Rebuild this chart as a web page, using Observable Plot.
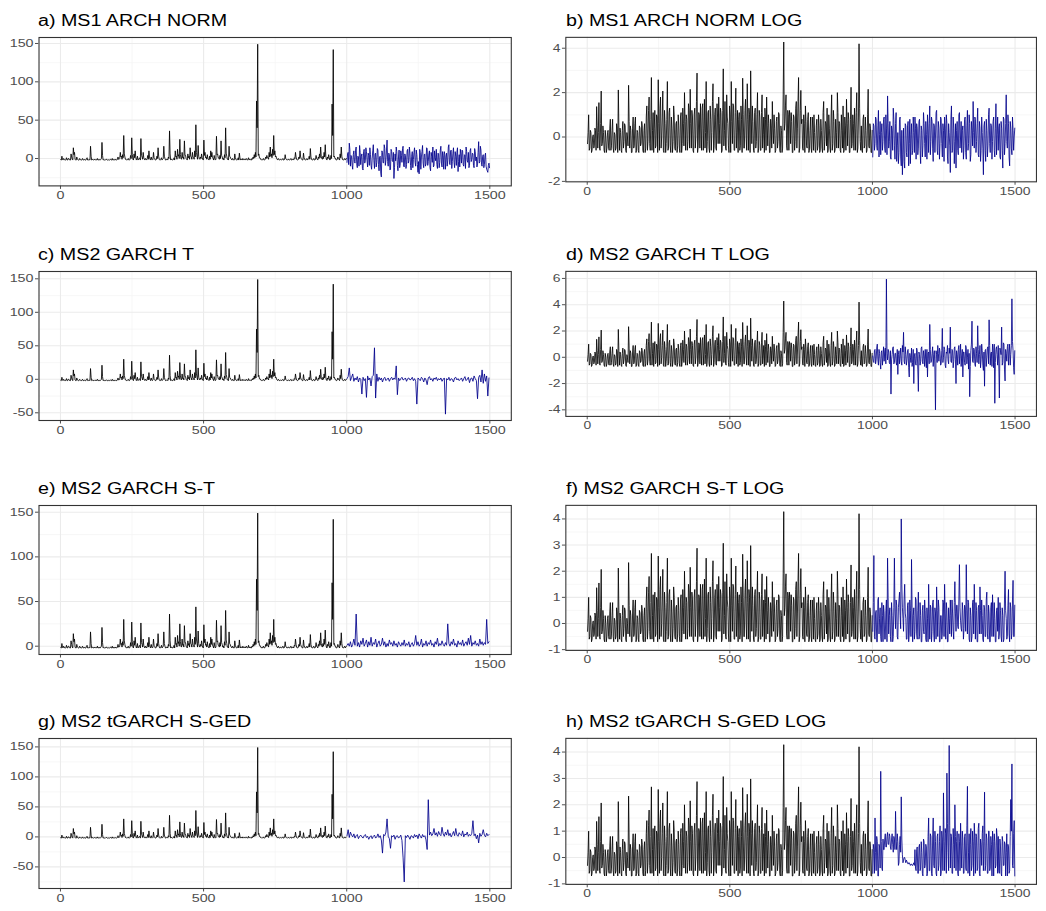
<!DOCTYPE html>
<html><head><meta charset="utf-8">
<script src="https://cdn.jsdelivr.net/npm/d3@7"></script>
<script src="https://cdn.jsdelivr.net/npm/@observablehq/plot@0.6"></script>
<style>
body{margin:0;background:#fff;}
#fig{position:relative;width:1046px;height:911px;overflow:hidden;background:#fff;font-family:"Liberation Sans",Arial,sans-serif;}
.title{position:absolute;font-size:16px;color:#000;white-space:nowrap;transform:scaleX(1.23);transform-origin:left top;line-height:1;}
.panel{position:absolute;}
</style></head><body><div id="fig"></div>
<script>
// time index: training part starts at 1, forecast part at 1001.
// "...Mid" arrays hold the readings taken between the main readings (offset by 2).
const trainStart = 1, testStart = 1001, step = 4, midOffset = 2;

// training series (black), raw scale, shared by panels a, c, e, g
const blackRaw = [
-1.5,3,-2,-1,-2,1,-2,0,-1.5,6,
-1,14,8,-2,2,-1.5,-2,-1,-2,0,
-2,-1.8,-2,1,-2,-1.5,16,-2,-1,-2,
-2,-1.5,0,-2,-2,-1,21,-2,-1.8,-2,
-1,-2,-2.1,-1.5,-2,0,-2,-2,-1,-2,
2,-1,8,3,5,30,2,-1,-2,0,
-2,4,27,-1,6,10,-2,3,-1,1,
26,2,8,-1,0,-2,4,10,-1,2,
-2,8,0,-2,3,14,-1,-2,1,-1,
16,0,-2,-1,2,36,-2,-1,-2,1,
10,3,12,5,25,0,8,2,23,4,
-1,6,3,14,2,8,1,10,44,3,
17,0,2,6,-1,24,8,2,5,-1,
3,10,8,0,4,-2,29,6,1,4,
23,2,0,5,40,3,-1,16,2,-1,
0,-2,6,-1,-2,1,7,-2,-1,0,
-2,-1,0,-2,1,-1,-2,0,2,5,
8,75,149,6,1,-1,-2,0,-2,2,
4,1,8,15,6,12,30,10,3,-1,
0,-2,-1,-2,0,-2,5,-1,-2,-1,
-2,0,-2,-1,1,8,-1,-2,2,10,
0,-2,7,-1,-2,0,-1,3,13,-1,
-2,0,-2,4,-1,2,6,15,0,3,
8,18,-1,2,5,-2,4,71,142,3,
0,-2,2,-1,6,15,-1,-2,0,-1
];
const blackRawMid = [
-2,-1,0,-2,-1.5,-2,0,-1.8,-2,2,
-2,5,-1,-2,-1,-2,0,-2,-1.5,-2,
-1,-2,0,-2,-1.5,-2,3,-1.5,-2,-1,
-1.5,-2,-2,-1,-2,0,4,-1.5,-2,-1,
-2,-1.5,-2,-1,-2,-2,-1,-2,-2,-1,
-1,0,2,-1,1,6,-1,-2,-1,-2,
-1,0,5,-2,1,2,-1,-2,0,-2,
4,-1,1,-2,-1,0,-1,2,-2,-1,
-1,1,-2,-1,0,3,-2,-1,-2,0,
3,-2,-1,-2,0,6,-1,-2,-1,-2,
2,-1,3,0,5,-1,1,-1,4,0,
-2,1,-1,3,-1,2,-1,2,8,-1,
3,-1,0,1,-2,4,1,-1,0,-2,
-1,2,1,-2,0,-1,5,1,-1,0,
4,-1,-2,1,7,-1,-2,3,0,-2,
-1,-2,1,-2,-1,-2,1,-1,-2,-1,
-1,-2,-1,-1.5,-2,-1,-2,-1,0,1,
2,40,4,1,-1,-2,-1,-2,-1,0,
1,-1,2,3,1,4,5,2,0,-2,
-1,-2,-1.5,-1,-2,-1,0,-2,-1,-2,
-1,-2,-1,-2,0,2,-2,-1,0,2,
-1,-2,1,-2,-1,-2,0,-1,2,-2,
-1,-2,-1,0,-2,0,1,3,-1,0,
2,3,-2,0,1,-1,0,30,2,0,
-2,-1,0,-2,1,3,-2,-1,-2,0
];

// training series (black), log scale, shared by panels b, d, f, h
const blackLog = [
-0.3,1.0,-0.5,0.2,-0.6,0.1,-0.4,0.3,1.37,-0.5,
1.55,-0.6,2.07,-0.3,0.2,-0.7,0.0,-0.5,0.3,-0.6,
0.8,-0.4,0.8,-0.7,0.1,-0.5,0.4,2.12,-0.6,0.2,
-0.7,0.7,-0.2,0.5,-0.7,0.0,2.33,-0.5,0.3,-0.7,
0.9,-0.4,0.9,-0.6,0.2,-0.7,0.4,-0.3,0.5,-0.7,
0.6,-0.5,1.4,-0.2,1.8,-0.6,2.68,0.3,-0.7,1.2,
-0.4,0.9,2.58,-0.6,1.8,0.0,2.07,-0.7,0.6,-0.3,
2.5,-0.5,1.3,-0.7,0.4,-0.2,1.0,-0.6,0.7,-0.4,
0.5,-0.7,1.1,-0.3,0.6,2.0,-0.6,0.8,-0.2,1.2,
2.15,-0.5,0.9,-0.7,1.3,0.0,2.88,-0.4,1.0,1.5,
-0.6,1.5,0.4,-0.5,2.5,-0.2,1.2,-0.7,0.8,0.2,
2.4,-0.4,1.3,-0.6,0.9,1.8,-0.3,1.1,-0.6,3.07,
0.3,-0.5,1.9,0.6,-0.7,1.0,2.5,-0.3,1.4,-0.6,
2.2,0.2,-0.7,1.1,-0.4,0.8,2.65,-0.5,1.2,0.0,
2.4,-0.6,1.0,2.98,-0.3,0.7,-0.7,1.3,-0.2,2.0,
-0.5,0.9,-0.6,1.9,0.1,-0.7,0.8,1.8,-0.4,0.6,
-0.7,0.5,1.6,-0.3,0.4,-0.6,0.9,-0.2,1.0,-0.7,
0.3,-0.5,4.28,0.6,1.9,-0.6,1.0,1.2,-0.3,0.7,
-0.7,0.9,-0.2,1.6,0.4,2.68,-0.5,2.1,0.8,-0.6,
0.6,1.4,-0.4,0.8,-0.7,0.3,-0.5,0.9,-0.6,0.2,
-0.7,0.8,-0.4,0.5,-0.6,0.3,-0.7,1.6,-0.2,0.6,
1.3,-0.6,0.4,-0.7,1.9,-0.3,0.7,-0.6,0.2,2.0,
-0.5,0.6,-0.7,0.3,1.4,-0.6,0.5,1.7,-0.4,0.8,
-0.7,2.24,-0.3,0.6,1.3,-0.6,2.0,-0.5,4.2,-0.2,
0.5,-0.7,1.0,-0.4,0.3,-0.6,2.15,-0.5,0.4,-0.7
];
const blackLogMid = [
0.2,-0.6,0.3,-0.7,0.0,-0.5,0.4,-0.6,0.5,0.2,
-0.5,0.6,-0.4,0.5,-0.6,0.3,-0.7,0.2,-0.5,0.4,
-0.6,0.3,-0.5,0.2,-0.6,0.6,-0.7,0.5,0.4,-0.6,
0.3,-0.5,0.6,-0.6,0.2,-0.4,0.7,0.5,-0.7,0.4,
-0.5,0.6,-0.7,0.3,-0.6,0.5,-0.4,0.7,-0.6,0.3,
-0.7,0.9,-0.6,1.2,-0.3,0.8,-0.6,1.1,0.4,-0.5,
1.0,-0.7,0.6,1.3,-0.5,0.9,-0.6,1.2,-0.7,0.8,
-0.6,1.1,-0.4,0.9,-0.7,1.4,-0.5,0.6,-0.7,1.0,
-0.5,0.9,-0.7,1.3,-0.4,0.7,1.0,-0.6,1.5,-0.5,
0.6,1.2,-0.6,1.0,-0.5,1.6,-0.7,1.1,-0.5,0.4,
1.3,-0.6,1.7,0.2,-0.7,1.1,-0.5,1.4,-0.6,1.6,
-0.7,1.0,-0.5,1.5,-0.3,0.6,1.3,-0.7,1.2,-0.4,
1.6,-0.6,0.9,-0.4,1.4,-0.7,0.7,1.5,-0.6,1.1,
-0.5,1.2,0.8,-0.6,1.4,-0.7,1.0,-0.5,1.7,-0.6,
0.8,1.3,-0.7,0.9,1.4,-0.6,1.1,-0.5,1.0,-0.7,
1.2,-0.6,1.1,-0.5,0.9,1.3,-0.6,0.5,1.0,-0.7,
0.8,-0.5,0.4,1.0,-0.7,0.7,-0.5,1.1,-0.6,0.5,
-0.7,1.9,0.3,1.4,-0.4,1.2,-0.6,0.9,1.1,-0.7,
1.0,-0.6,1.3,-0.5,1.6,-0.7,1.2,0.6,-0.5,1.0,
-0.7,0.7,-0.5,1.1,-0.6,0.9,-0.7,0.4,1.0,-0.6,
0.5,-0.6,1.0,-0.7,0.8,-0.5,1.1,-0.6,0.7,-0.4,
-0.7,1.0,-0.5,0.9,-0.6,1.2,-0.7,0.8,-0.5,1.1,
0.7,-0.6,1.0,-0.5,-0.7,0.9,-0.6,0.6,1.1,-0.7,
0.8,-0.5,1.0,-0.6,0.4,1.1,-0.7,0.9,1.3,-0.6,
-0.6,0.8,-0.5,0.9,-0.7,1.0,-0.4,0.6,-0.7,0.3
];

// forecast series (blue), one per panel
const blueA = [
-5,8,20,-10,3,-14,10,-6,15,-12,
2,17,-8,6,-15,12,-3,9,-11,4,
14,-9,0,18,-13,7,-5,11,-16,3,
-24,8,-6,13,-2,24,-10,5,-14,9,
-4,-26,6,15,-9,2,-12,10,-5,16,
-11,4,-8,12,-3,7,-15,9,-1,14,
-10,5,-18,-20,8,2,17,-12,6,-7,
13,-4,10,-16,3,15,-9,1,12,-13,
6,-5,16,-11,4,9,-14,7,-2,18,
-8,11,-4,14,-12,3,8,-17,5,12,
-6,10,-10,4,15,-3,8,-9,13,-1,
6,-12,9,2,-7,22,-4,11,-10,5,
-8,7,-14,-18,-6
];
const blueAMid = [
6,-8,12,4,-9,5,-4,11,-7,3,
-10,8,3,-13,9,-6,14,-2,7,-9,
5,-14,10,-3,6,-11,13,-8,2,-19,
10,-5,18,-9,11,-4,7,-15,12,-3,
8,-12,-3,9,-16,11,-7,4,13,-10,
6,-13,10,-6,15,-9,3,-12,8,-5,
11,-8,-4,12,-14,9,-6,5,-10,14,
-9,6,-12,8,-5,-11,10,-3,-8,7,
-12,11,-6,9,-14,5,2,-10,15,-7,
10,-13,7,-5,9,-9,14,-4,-11,6,
11,-8,5,-13,9,-5,-12,10,-4,7,
-9,13,-3,-11,8,-6,16,-8,3,-12,
4,-10,-16,-9,-12
];
const blueB = [
-0.9,0.5,-0.3,0.8,-0.6,1.2,0.1,-0.8,0.6,-0.2,
0.9,-0.7,0.4,1.85,-0.5,0.7,-1.0,0.3,1.3,-0.4,
0.6,-1.1,0.2,-0.7,0.9,-1.3,-1.7,0.4,-1.4,0.5,
-0.9,0.7,-0.3,-1.2,0.6,-0.6,0.2,0.9,-1.0,0.4,
-0.5,0.8,-1.2,0.3,-0.4,0.6,-0.9,0.1,1.0,-0.7,
1.4,-0.2,0.7,-1.1,0.5,0.0,1.2,-0.8,0.4,-0.3,
0.8,-0.9,0.3,0.9,-0.5,0.6,-1.2,0.2,-1.6,1.4,
-0.6,0.4,-0.2,-1.4,0.7,-0.8,1.1,0.0,-0.7,0.5,
-0.4,0.9,-1.0,1.2,-0.3,0.6,-0.8,0.3,1.6,-0.5,
0.8,-0.2,1.3,-0.9,0.4,-0.6,0.2,-1.7,0.7,-1.1,
0.3,-0.4,1.3,-0.7,0.5,-0.2,0.9,-0.9,1.5,0.1,
-0.6,0.6,-1.0,0.4,-1.4,0.8,-0.3,1.9,-0.5,0.6,
-1.3,0.4,-0.8,0.3,0.0
];
const blueBMid = [
0.6,-0.6,0.9,-0.4,0.5,-0.9,0.7,0.2,-0.6,0.8,
-0.5,1.0,-0.8,0.6,-0.2,-0.9,0.5,-0.6,0.8,-1.0,
1.1,-0.4,-1.2,0.8,-0.9,0.3,-0.8,-1.1,0.6,-0.7,
0.5,-1.3,0.8,0.1,-0.8,0.9,-0.7,0.4,0.6,-0.8,
0.7,-0.6,0.5,-0.9,1.1,-0.3,0.7,-1.0,0.4,0.6,
-0.8,0.9,-0.5,0.6,-0.7,1.1,-0.6,0.7,-1.0,0.9,
-0.3,0.6,-1.1,0.4,1.0,-0.9,0.6,-0.4,0.8,-0.7,
0.9,-1.2,0.6,0.3,-0.6,1.0,-0.5,0.7,0.3,-1.0,
0.8,-0.7,0.5,-0.6,1.0,-1.1,0.7,-0.4,0.2,0.9,
-0.7,0.6,-0.8,0.7,-1.1,0.9,-0.5,0.5,-0.6,0.8,
-0.9,1.0,-0.3,0.6,-1.0,0.7,-0.6,0.4,-0.8,0.9,
0.4,-0.9,0.7,-0.6,0.9,-0.8,0.6,-0.2,1.0,-0.9,
0.7,-0.5,0.9,-0.6,0.4
];
const blueC = [
1,4,17,-2,3,8,-3,2,-1,4,
-4,2,0,-22,3,-2,1,-27,5,-1,
2,-10,4,6,47,-28,8,-3,3,-1,
2,-4,1,3,-2,0,2,-3,1,3,
-1,2,0,20,-23,2,-2,1,3,-1,
0,2,-3,1,2,-1,0,3,-2,1,
-3,-37,2,0,-2,3,1,-4,2,-1,
-8,2,4,-1,1,-3,2,0,3,-2,
1,-1,2,-3,0,2,-52,1,-1,3,
-2,1,0,-4,2,3,-1,1,-2,0,
2,-3,1,4,-2,0,3,-5,1,2,
-3,5,1,-2,-29,3,6,-4,14,-6,
8,-3,5,-25,2
];
const blueD = [
0.1,-0.4,0.6,-0.2,1.0,-0.6,0.3,-0.9,0.5,0.0,
-0.3,0.7,5.95,-0.2,0.4,-0.5,-2.8,0.2,0.8,-0.4,
0.3,-0.6,-1.3,0.5,0.1,-0.3,0.9,1.9,-0.5,0.2,
-0.2,0.6,-1.5,0.0,0.7,-0.4,-2.0,0.3,-0.6,0.5,
-2.6,0.2,-0.3,0.8,-0.5,0.1,0.6,-0.8,-1.5,0.4,
2.5,-0.4,0.3,-0.7,0.5,-4.0,0.2,0.9,-0.3,0.4,
-0.5,2.2,0.0,0.6,-0.8,0.3,-0.2,0.7,2.3,-0.4,
0.5,-0.3,0.8,-2.0,0.2,0.6,-0.5,1.0,0.1,-1.5,
0.4,-0.6,0.7,0.0,-0.9,-3.0,0.5,2.75,-0.4,0.6,
-0.7,0.3,2.4,-0.5,0.9,-0.2,0.5,-1.0,-2.2,0.6,
0.0,0.8,2.85,-0.6,0.4,1.0,-0.8,-3.5,0.6,0.2,
0.9,-3.1,0.5,2.3,-0.4,1.0,-1.8,0.3,0.8,-0.6,
1.0,0.2,4.45,0.5,-1.3
];
const blueDMid = [
-0.3,0.5,-0.5,0.7,-0.2,0.6,-0.4,0.4,-0.6,0.8,
0.4,-0.5,0.3,0.6,-0.4,0.5,-0.2,0.7,-0.5,0.3,
-0.4,0.6,0.2,-0.5,0.7,-0.6,0.4,-0.3,0.8,-0.6,
0.5,-0.8,0.3,-0.4,-0.7,0.6,0.1,-0.5,0.7,-0.9,
0.4,-0.6,0.7,-0.3,0.5,-0.7,-0.2,0.6,0.3,-0.5,
0.6,-0.3,0.8,0.2,-0.9,0.5,-0.4,0.3,0.7,-0.6,
0.5,-0.4,0.8,-0.6,0.4,0.9,-0.5,0.3,-0.3,0.6,
-0.8,0.7,-0.2,0.5,-0.6,0.9,0.3,-0.7,0.6,0.4,
-0.4,0.9,-0.5,0.6,0.3,-0.7,1.0,-0.3,0.7,-0.5,
0.8,-0.4,0.6,0.2,-0.8,1.0,-0.6,0.4,0.5,-0.7,
0.7,-0.5,0.9,0.3,-0.7,0.5,1.0,-0.4,0.8,-0.6,
-0.5,0.7,0.2,-0.6,1.1,-0.9,0.6,-0.3,1.0,0.4,
-0.6,0.9,1.2,-0.8,0.5
];
const blueE = [
1,3,0,5,-1,2,8,1,36,0,
4,-1,6,2,9,0,3,7,-1,5,
1,10,0,4,2,8,-1,3,6,0,
2,9,1,5,-1,3,0,7,2,4,
0,6,1,3,-1,5,2,0,4,1,
7,0,3,1,5,-1,2,4,0,3,
12,1,5,0,2,8,-1,3,1,6,
0,4,2,7,1,3,-1,5,2,9,
0,3,1,6,2,0,4,1,25,3,
0,5,2,8,1,3,-1,6,2,4,
1,7,0,3,5,1,9,2,12,0,
4,2,6,1,3,0,8,2,5,1,
4,2,30,3,5
];
const blueF = [
-0.3,2.6,-0.6,0.5,-0.7,1.0,0.2,-0.5,0.8,-0.7,
0.4,-0.6,0.9,2.5,-0.4,0.6,-0.7,0.3,-0.5,2.5,
-0.2,0.7,-0.6,0.9,0.3,4.0,0.6,-0.3,1.5,0.2,
-0.6,0.8,-0.4,0.5,2.45,-0.7,0.6,-0.3,0.9,-0.6,
1.2,-0.5,0.3,-0.7,0.7,-0.4,0.5,-0.7,0.2,1.5,
-0.6,0.6,-0.3,0.9,-0.7,0.4,1.4,-0.5,0.6,-0.7,
0.3,-0.4,0.8,1.5,-0.6,0.5,-0.7,0.2,0.9,-0.5,
0.4,-0.6,1.6,-0.3,0.7,-0.2,2.25,0.1,-0.3,0.5,
-0.2,0.6,2.25,-0.4,0.8,-0.7,0.3,-0.5,0.9,1.5,
-0.6,0.5,-0.7,0.7,1.4,-0.4,0.3,-0.7,0.6,-0.5,
1.2,-0.6,0.4,-0.7,0.8,1.1,-0.5,0.2,-0.7,0.6,
1.0,-0.4,0.5,-0.7,0.3,-0.6,2.0,0.2,-0.5,1.3,
-0.7,0.6,-0.4,1.65,-0.5
];
const blueFMid = [
0.8,-0.5,0.4,-0.7,0.9,-0.4,0.6,-0.7,0.3,0.7,
-0.6,0.5,-0.7,1.0,0.3,-0.5,0.8,-0.7,0.6,0.4,
0.9,-0.5,0.6,1.2,-0.2,1.5,0.2,0.9,0.4,-0.6,
0.7,-0.7,0.9,-0.5,0.6,0.3,-0.6,1.0,-0.4,0.5,
-0.6,0.8,-0.7,0.5,-0.3,0.9,-0.6,0.6,-0.7,0.4,
0.7,-0.7,0.8,-0.4,0.6,-0.6,0.5,0.9,-0.7,0.3,
-0.6,0.9,-0.5,0.4,0.8,-0.7,0.6,-0.4,0.3,0.9,
-0.3,0.8,0.4,0.7,-0.1,0.9,0.6,-0.2,0.8,-0.6,
0.7,-0.3,0.5,0.9,-0.6,0.6,-0.7,0.8,-0.4,0.5,
0.8,-0.7,0.6,-0.4,0.5,0.9,-0.6,0.7,-0.5,0.9,
-0.4,0.7,-0.7,0.6,-0.5,0.4,0.8,-0.7,0.5,-0.3,
-0.6,0.8,-0.5,0.6,-0.7,0.9,0.5,-0.6,0.7,-0.4,
0.8,-0.6,0.9,-0.5,0.7
];
const blueG = [
2,12,-1,8,3,0,5,-2,2,4,
-3,1,3,0,-2,2,4,-1,1,-4,
0,2,-3,1,3,-2,0,5,-1,2,
-5,-27,4,2,8,30,1,-3,-19,2,
0,3,-4,1,2,-2,0,3,-6,-35,
-75,2,-1,3,0,-4,2,1,-2,4,
0,3,-3,5,1,-2,4,0,2,-5,
-21,62,3,8,2,5,14,3,7,1,
9,4,2,16,5,1,8,3,12,2,
6,0,4,9,2,14,3,1,7,4,
2,10,0,5,3,8,1,4,2,6,
27,2,5,-3,3,-10,6,1,4,12,
3,0,6,2,4
];
const blueH = [
-0.6,0.3,1.5,-0.5,0.6,-0.7,0.4,3.27,-0.4,0.7,
0.3,0.9,0.4,0.95,0.5,0.8,0.3,0.9,0.2,0.7,
1.75,0.3,0.6,-0.2,0.8,2.3,0.1,-0.1,0.0,-0.2,
-0.15,-0.25,-0.2,-0.3,-0.25,-0.3,-0.2,0.3,-0.5,0.4,
-0.6,0.5,-0.4,0.2,-0.7,0.6,-0.3,0.4,-0.6,1.5,
-0.5,0.8,-0.7,1.5,-0.4,0.6,-0.7,0.9,-0.3,1.2,
-0.6,0.7,2.45,-0.5,0.9,3.2,0.2,4.25,-0.4,0.8,
-0.6,0.5,2.0,-0.5,1.0,-0.7,0.6,1.3,-0.4,0.7,
-0.6,0.9,-0.5,2.7,0.2,-0.7,1.1,-0.3,0.6,1.3,
-0.6,0.8,-0.4,1.3,-0.7,0.5,0.9,-0.5,2.48,-0.3,
0.7,-0.6,1.0,-0.4,0.5,1.0,-0.7,0.6,-0.3,0.8,
0.8,-0.6,0.4,-0.7,0.6,-0.3,0.5,0.2,-0.7,0.4,
-0.5,2.2,3.55,-0.4,1.4
];
const blueHMid = [
0.5,-0.6,0.2,0.8,-0.7,0.5,-0.4,0.6,-0.5,0.3,
0.7,0.4,0.8,0.5,0.9,0.4,0.7,0.5,0.8,0.3,
0.6,0.9,-0.3,0.5,0.2,0.7,-0.2,0.0,-0.1,-0.1,
-0.2,-0.2,-0.25,-0.25,-0.3,-0.25,-0.3,-0.4,0.3,-0.6,
0.4,-0.5,0.6,-0.6,0.7,-0.4,0.5,-0.7,0.8,-0.5,
0.9,-0.6,0.7,-0.3,1.0,-0.6,0.8,-0.5,0.6,-0.7,
1.0,-0.5,0.6,1.1,-0.6,1.3,-0.5,1.2,0.9,-0.6,
1.1,-0.4,0.8,0.6,-0.6,0.9,-0.5,0.4,1.0,-0.6,
0.8,-0.4,1.2,-0.6,0.9,0.5,-0.5,1.0,-0.7,0.7,
0.9,-0.5,1.1,-0.6,0.7,-0.3,1.2,0.6,-0.5,0.9,
-0.6,1.0,-0.5,0.8,-0.7,0.6,0.9,-0.4,1.1,-0.6,
-0.5,0.7,-0.6,0.8,-0.3,0.6,-0.7,0.9,0.5,-0.6,
0.8,1.0,-0.3,0.9,-0.7
];

// panel titles and axis ticks
const titles = ["a) MS1 ARCH NORM","b) MS1 ARCH NORM LOG","c) MS2 GARCH T","d) MS2 GARCH T LOG",
  "e) MS2 GARCH S-T","f) MS2 GARCH S-T LOG","g) MS2 tGARCH S-GED","h) MS2 tGARCH S-GED LOG"];
const xTicks = [0, 500, 1000, 1500];
const xMinor = [250, 750, 1250];
const yTicksA = [0, 50, 100, 150], yMinorA = [-25, 25, 75, 125];
const yTicksB = [-2, 0, 2, 4], yMinorB = [-1, 1, 3];
const yTicksC = [-50, 0, 50, 100, 150], yMinorC = [-25, 25, 75, 125];
const yTicksD = [-4, -2, 0, 2, 4, 6], yMinorD = [-3, -1, 1, 3, 5];
const yTicksE = [0, 50, 100, 150], yMinorE = [25, 75, 125];
const yTicksF = [-1, 0, 1, 2, 3, 4], yMinorF = [-0.5, 0.5, 1.5, 2.5, 3.5];
const yTicksG = [-50, 0, 50, 100, 150], yMinorG = [-75, -25, 25, 75, 125];
const yTicksH = [-1, 0, 1, 2, 3, 4], yMinorH = [-0.5, 0.5, 1.5, 2.5, 3.5];

// merge main readings with the in-between readings (if any), ordered by time
function series(start, main, mid) {
  const out = [];
  main.forEach((v, i) => {
    out.push({x: start + step * i, y: v});
    if (mid) out.push({x: start + step * i + midOffset, y: mid[i]});
  });
  return out;
}

const rows = [[37.3,185.7],[271,420],[505,654],[738.3,888.3]];
const panels = [
  {t:0, col:0, row:0, log:false, blue:blueA, mid:blueAMid, yd:[-35.7,157.8], yt:yTicksA, ym:yMinorA},
  {t:1, col:1, row:0, log:true,  blue:blueB, mid:blueBMid, yd:[-2.02,4.49], yt:yTicksB, ym:yMinorB},
  {t:2, col:0, row:1, log:false, blue:blueC, mid:null, yd:[-61.5,160.9], yt:yTicksC, ym:yMinorC},
  {t:3, col:1, row:1, log:true,  blue:blueD, mid:blueDMid, yd:[-4.5,6.54], yt:yTicksD, ym:yMinorD},
  {t:4, col:0, row:2, log:false, blue:blueE, mid:null, yd:[-9.3,157.5], yt:yTicksE, ym:yMinorE},
  {t:5, col:1, row:2, log:true,  blue:blueF, mid:blueFMid, yd:[-1.03,4.52], yt:yTicksF, ym:yMinorF},
  {t:6, col:0, row:3, log:false, blue:blueG, mid:null, yd:[-86,164], yt:yTicksG, ym:yMinorG},
  {t:7, col:1, row:3, log:true,  blue:blueH, mid:blueHMid, yd:[-1.02,4.52], yt:yTicksH, ym:yMinorH}
];

const fig = document.getElementById("fig");
const MT = 5, MB = 26;
const fmt = d => String(d);
const rawTrain = series(trainStart, blackRaw, blackRawMid);
const logTrain = series(trainStart, blackLog, blackLogMid);

for (const p of panels) {
  const [top, bottom] = rows[p.row];
  const left = p.col === 0 ? 0 : 530;
  const w = p.col === 0 ? 520 : 530;
  const ml = p.col === 0 ? 38.5 : 36.3;
  const mr = p.col === 0 ? 9.2 : 10.3;
  const black = p.log ? logTrain : rawTrain;
  const blue = series(testStart, p.blue, p.mid);

  const svg = Plot.plot({
    width: w, height: (bottom - top) + MT + MB,
    marginTop: MT, marginBottom: MB, marginLeft: ml, marginRight: mr,
    style: {fontFamily: "Liberation Sans, Arial, sans-serif", fontSize: "11px", color: "#4D4D4D", background: "transparent"},
    x: {domain: [-75, 1575], ticks: xTicks, tickSize: 3.5, tickPadding: 2, tickFormat: fmt, label: null},
    y: {domain: p.yd, ticks: p.yt, tickSize: 3.5, tickPadding: 2, tickFormat: fmt, label: null},
    marks: [
      Plot.ruleX(xMinor, {stroke: "#F3F3F3", strokeWidth: 0.7}),
      Plot.ruleY(p.ym, {stroke: "#F3F3F3", strokeWidth: 0.7}),
      Plot.ruleX(xTicks, {stroke: "#EBEBEB", strokeWidth: 1.1}),
      Plot.ruleY(p.yt, {stroke: "#EBEBEB", strokeWidth: 1.1}),
      Plot.line(black, {x: "x", y: "y", stroke: "#000000", strokeWidth: 0.85}),
      Plot.line(blue, {x: "x", y: "y", stroke: "#00008B", strokeWidth: 0.85}),
      Plot.frame({stroke: "#333333", strokeWidth: 1.1})
    ]
  });
  const div = document.createElement("div");
  div.className = "panel";
  div.style.left = left + "px";
  div.style.top = (top - MT) + "px";
  div.appendChild(svg);
  fig.appendChild(div);

  svg.querySelectorAll('[aria-label^="x-axis"] text, [aria-label^="y-axis"] text').forEach(t => {
    const len = t.getComputedTextLength();
    if (len > 0) {
      t.setAttribute("textLength", (len * 1.3).toFixed(2));
      t.setAttribute("lengthAdjust", "spacingAndGlyphs");
    }
  });

  const title = document.createElement("div");
  title.className = "title";
  title.textContent = titles[p.t];
  title.style.left = (p.col === 0 ? 38 : 565.5) + "px";
  title.style.top = (top - 24.3) + "px";
  fig.appendChild(title);
}
</script>
</body></html>
